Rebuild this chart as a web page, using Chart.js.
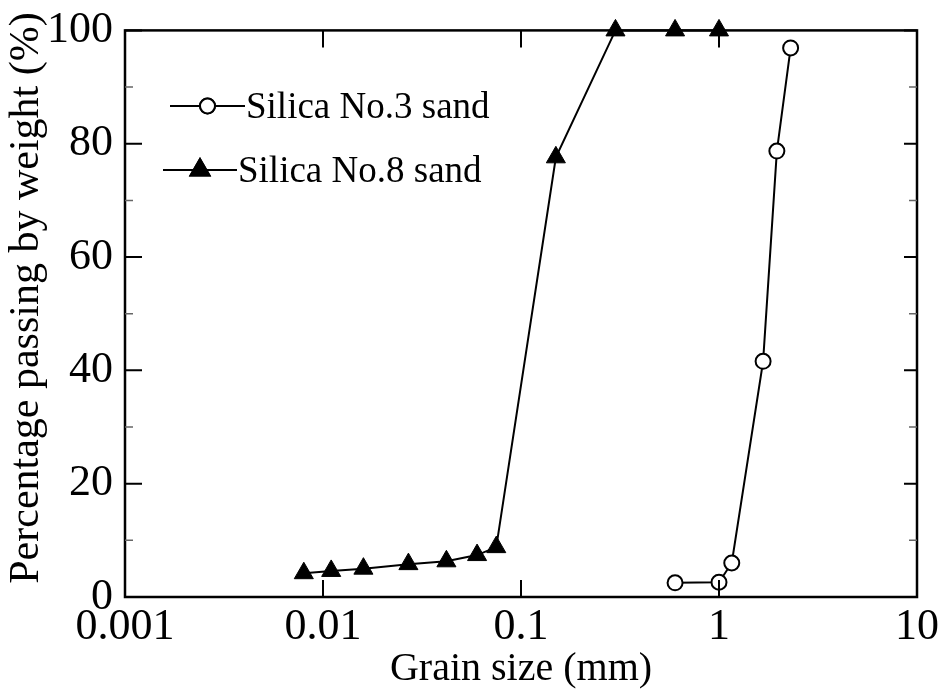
<!DOCTYPE html>
<html>
<head>
<meta charset="utf-8">
<script src="https://cdn.jsdelivr.net/npm/chart.js@4.4.1/dist/chart.umd.min.js"></script>
<style>
  html, body { margin: 0; padding: 0; background: #fff; }
  #wrap { width: 943px; height: 697px; }
</style>
</head>
<body>
<div id="wrap"><canvas id="chart" width="943" height="697"></canvas></div>
<script>
// Silica No.3 sand (open circles)
const sizeNo3 = [0.6, 1.0, 1.16, 1.67, 1.96, 2.3];
const passNo3 = [2.5, 2.6, 6.0, 41.6, 78.7, 96.9];

// Silica No.8 sand (filled triangles)
const sizeNo8 = [0.008, 0.011, 0.016, 0.027, 0.042, 0.06, 0.075, 0.15, 0.3, 0.6, 1.0];
const passNo8 = [4.2, 4.6, 5.0, 5.8, 6.3, 7.4, 8.8, 77.6, 100, 100, 100];

const xTicks = [0.001, 0.01, 0.1, 1, 10];
const xTickLabels = ['0.001', '0.01', '0.1', '1', '10'];
const yTicks = [0, 20, 40, 60, 80, 100];
const yMinor = [10, 30, 50, 70, 90];
const yTitle = 'Percentage passing by weight (%)';

const serif = "'Liberation Serif', 'Times New Roman', serif";

// frame + inward ticks on all four sides, y title and legend
const framePlugin = {
    id: 'frame',
    afterDraw(chart) {
        const {ctx, chartArea: a, scales: {x, y}} = chart;
        ctx.save();
        ctx.strokeStyle = '#000';
        ctx.lineWidth = 2.5;
        ctx.strokeRect(a.left, a.top, a.right - a.left, a.bottom - a.top);

        ctx.lineWidth = 2;
        xTicks.forEach(v => {
            const px = x.getPixelForValue(v);
            ctx.beginPath();
            ctx.moveTo(px, a.bottom); ctx.lineTo(px, a.bottom - 17);
            ctx.moveTo(px, a.top); ctx.lineTo(px, a.top + 17);
            ctx.stroke();
        });
        yTicks.forEach(v => {
            const py = y.getPixelForValue(v);
            ctx.beginPath();
            ctx.moveTo(a.left, py); ctx.lineTo(a.left + 17, py);
            ctx.moveTo(a.right, py); ctx.lineTo(a.right - 13, py);
            ctx.stroke();
        });
        ctx.strokeStyle = '#666';
        ctx.lineWidth = 1.5;
        yMinor.forEach(v => {
            const py = y.getPixelForValue(v);
            ctx.beginPath();
            ctx.moveTo(a.left, py); ctx.lineTo(a.left + 8, py);
            ctx.moveTo(a.right, py); ctx.lineTo(a.right - 8, py);
            ctx.stroke();
        });

        // y axis title
        ctx.save();
        ctx.translate(27, 298);
        ctx.rotate(-Math.PI / 2);
        ctx.font = '42px ' + serif;
        ctx.fillStyle = '#000';
        ctx.textAlign = 'center';
        ctx.textBaseline = 'middle';
        ctx.fillText(yTitle, 0, 0);
        ctx.restore();

        // legend
        const items = [
            {ds: chart.data.datasets[0], x0: 170, x1: 245, ly: 106},
            {ds: chart.data.datasets[1], x0: 163, x1: 237, ly: 170}
        ];
        ctx.font = '37px ' + serif;
        ctx.textBaseline = 'middle';
        items.forEach(it => {
            ctx.strokeStyle = '#000';
            ctx.lineWidth = 2;
            ctx.beginPath();
            ctx.moveTo(it.x0, it.ly); ctx.lineTo(it.x1, it.ly);
            ctx.stroke();
            Chart.helpers.drawPoint(ctx, {
                pointStyle: it.ds.pointStyle,
                radius: it.ds.pointRadius,
                borderWidth: it.ds.pointBorderWidth
            }, (it.x0 + it.x1) / 2, it.ly);
            ctx.fillStyle = it.ds.pointBackgroundColor;
            ctx.strokeStyle = '#000';
            ctx.fill();
            ctx.stroke();
            ctx.fillStyle = '#000';
            ctx.fillText(it.ds.label, it.x1 + 1, it.ly + 2);
        });
        ctx.restore();
    }
};

new Chart(document.getElementById('chart'), {
    type: 'scatter',
    data: {
        datasets: [
            {
                label: 'Silica No.3 sand',
                data: sizeNo3.map((v, i) => ({x: v, y: passNo3[i]})),
                showLine: true,
                borderColor: '#000',
                borderWidth: 2,
                pointStyle: 'circle',
                pointRadius: 7.5,
                pointBorderWidth: 2,
                pointBackgroundColor: '#fff',
                pointBorderColor: '#000',
                clip: false
            },
            {
                label: 'Silica No.8 sand',
                data: sizeNo8.map((v, i) => ({x: v, y: passNo8[i]})),
                showLine: true,
                borderColor: '#000',
                borderWidth: 2,
                pointStyle: 'triangle',
                pointRadius: 11,
                pointBorderWidth: 1,
                pointBackgroundColor: '#000',
                pointBorderColor: '#000',
                clip: false
            }
        ]
    },
    options: {
        responsive: false,
        animation: false,
        layout: {padding: {top: 30, right: 26, left: 0, bottom: 0}},
        plugins: {legend: {display: false}, tooltip: {enabled: false}},
        scales: {
            x: {
                type: 'logarithmic',
                min: 0.001,
                max: 10,
                afterBuildTicks: s => { s.ticks = xTicks.map(v => ({value: v})); },
                afterFit: s => { s.height = 100; },
                grid: {display: false},
                border: {display: false},
                ticks: {
                    color: '#000',
                    font: {family: serif, size: 44},
                    padding: -4,
                    maxRotation: 0,
                    autoSkip: false,
                    callback: v => xTickLabels[xTicks.indexOf(v)]
                },
                title: {
                    display: true,
                    text: 'Grain size (mm)',
                    color: '#000',
                    font: {family: serif, size: 40},
                    padding: {top: 0, bottom: 4}
                }
            },
            y: {
                min: 0,
                max: 100,
                afterBuildTicks: s => { s.ticks = yTicks.map(v => ({value: v})); },
                afterFit: s => { s.width = 125; },
                grid: {display: false},
                border: {display: false},
                ticks: {
                    color: '#000',
                    font: {family: serif, size: 44},
                    padding: 4
                }
            }
        }
    },
    plugins: [framePlugin]
});
</script>
</body>
</html>
